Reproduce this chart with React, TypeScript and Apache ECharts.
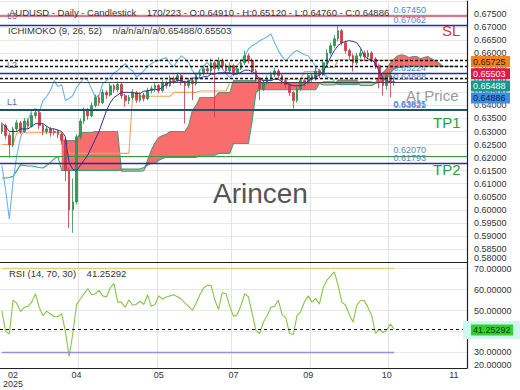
import React, { useEffect, useRef } from 'react';
import * as echarts from 'echarts';

const FONT = 'Liberation Sans, Arial, sans-serif';
const SLOTS = 125;
const categories = Array.from({ length: SLOTS }, (_, i) => String(i));

const xLabelIndex = [3, 20, 42, 62, 82, 103, 121];
const xLabelText = ['02\n2025', '04', '05', '07', '09', '10', '11'];
const xGridIndex = [21, 42, 62, 83, 104];

const opens = [
  0.6300,0.6323,0.6285,0.6248,0.6310,0.6333,0.6300,0.6340,0.6320,0.6361,
  0.6372,0.6323,0.6300,0.6310,0.6296,0.6300,0.6289,0.6266,0.6150,0.6000,
  0.6030,0.6280,0.6340,0.6380,0.6360,0.6400,0.6430,0.6410,0.6450,0.6440,
  0.6475,0.6460,0.6480,0.6437,0.6418,0.6430,0.6450,0.6420,0.6440,0.6426,
  0.6457,0.6464,0.6476,0.6457,0.6487,0.6476,0.6503,0.6495,0.6514,0.6487,
  0.6476,0.6495,0.6483,0.6514,0.6525,0.6540,0.6532,0.6563,0.6540,0.6571,
  0.6552,0.6532,0.6552,0.6525,0.6540,0.6563,0.6590,0.6571,0.6532,0.6502,
  0.6464,0.6487,0.6502,0.6518,0.6532,0.6514,0.6495,0.6480,0.6449,0.6419,
  0.6464,0.6495,0.6487,0.6514,0.6502,0.6532,0.6518,0.6563,0.6601,0.6629,
  0.6655,0.6686,0.6640,0.6610,0.6590,0.6563,0.6590,0.6601,0.6586,0.6601,
  0.6578,0.6552,0.6502,0.6476,0.6514,0.6491,
];
const closes = [
  0.6323,0.6285,0.6248,0.6310,0.6333,0.6300,0.6340,0.6320,0.6361,0.6372,
  0.6323,0.6300,0.6310,0.6296,0.6300,0.6289,0.6266,0.6150,0.6000,0.6030,
  0.6280,0.6340,0.6380,0.6360,0.6400,0.6430,0.6410,0.6450,0.6440,0.6475,
  0.6460,0.6480,0.6437,0.6418,0.6430,0.6450,0.6420,0.6440,0.6426,0.6457,
  0.6464,0.6476,0.6457,0.6487,0.6476,0.6503,0.6495,0.6514,0.6487,0.6476,
  0.6495,0.6483,0.6514,0.6525,0.6540,0.6532,0.6563,0.6540,0.6571,0.6552,
  0.6532,0.6552,0.6525,0.6540,0.6563,0.6590,0.6571,0.6532,0.6502,0.6464,
  0.6487,0.6502,0.6518,0.6532,0.6514,0.6495,0.6480,0.6449,0.6419,0.6464,
  0.6495,0.6487,0.6514,0.6502,0.6532,0.6518,0.6563,0.6601,0.6629,0.6655,
  0.6686,0.6640,0.6610,0.6590,0.6563,0.6590,0.6601,0.6586,0.6601,0.6578,
  0.6552,0.6502,0.6476,0.6514,0.6495,0.64886,
];
const lows = [
  0.6290,0.6270,0.6200,0.6240,0.6302,0.6290,0.6295,0.6310,0.6315,0.6350,
  0.6310,0.6285,0.6290,0.6280,0.6285,0.6275,0.6250,0.6110,0.5930,0.5912,
  0.6020,0.6270,0.6330,0.6345,0.6355,0.6392,0.6398,0.6405,0.6425,0.6435,
  0.6448,0.6450,0.6425,0.6395,0.6405,0.6420,0.6410,0.6412,0.6415,0.6420,
  0.6445,0.6452,0.6446,0.6450,0.6465,0.6470,0.6482,0.6488,0.6478,0.6330,
  0.6465,0.6420,0.6475,0.6505,0.6515,0.6520,0.6525,0.6354,0.6532,0.6540,
  0.6520,0.6525,0.6512,0.6518,0.6535,0.6555,0.6560,0.6520,0.6490,0.6420,
  0.6455,0.6478,0.6495,0.6508,0.6502,0.6482,0.6465,0.6435,0.6388,0.6410,
  0.6455,0.6472,0.6480,0.6490,0.6495,0.6505,0.6512,0.6555,0.6592,0.6620,
  0.6645,0.6630,0.6598,0.6575,0.6530,0.6555,0.6580,0.6572,0.6578,0.6565,
  0.6540,0.6465,0.6437,0.6460,0.6430,0.6476,
];
const highs = [
  0.6335,0.6330,0.6295,0.6318,0.6345,0.6340,0.6352,0.6350,0.6372,0.6385,
  0.6378,0.6330,0.6322,0.6318,0.6312,0.6308,0.6295,0.6272,0.6160,0.6120,
  0.6290,0.6350,0.6392,0.6390,0.6412,0.6442,0.6440,0.6462,0.6458,0.6485,
  0.6482,0.6492,0.6488,0.6445,0.6440,0.6462,0.6455,0.6452,0.6448,0.6468,
  0.6475,0.6488,0.6482,0.6498,0.6495,0.6515,0.6512,0.6526,0.6520,0.6495,
  0.6505,0.6502,0.6525,0.6538,0.6552,0.6550,0.6580,0.6572,0.6585,0.6580,
  0.6560,0.6565,0.6560,0.6552,0.6575,0.6610,0.6600,0.6580,0.6540,0.6510,
  0.6498,0.6515,0.6530,0.6545,0.6540,0.6520,0.6502,0.6488,0.6455,0.6472,
  0.6505,0.6505,0.6525,0.6522,0.6545,0.6540,0.6575,0.6615,0.6640,0.6670,
  0.6705,0.6692,0.6648,0.6618,0.6598,0.6602,0.6615,0.6610,0.6612,0.6608,
  0.6585,0.6560,0.6510,0.6522,0.6520,0.6512,
];

const tenkan = [
  0.6330,0.6320,0.6300,0.6300,0.6300,0.6310,0.6310,0.6310,0.6320,0.6330,
  0.6330,0.6330,0.6320,0.6310,0.6310,0.6305,0.6300,0.6280,0.6180,0.6155,
  0.6150,0.6170,0.6190,0.6210,0.6240,0.6270,0.6300,0.6340,0.6380,0.6410,
  0.6430,0.6440,0.6450,0.6450,0.6450,0.6450,0.6445,0.6445,0.6455,0.6455,
  0.6460,0.6460,0.6460,0.6470,0.6480,0.6490,0.6490,0.6495,0.6495,0.6490,
  0.6490,0.6505,0.6505,0.6505,0.6510,0.6510,0.6520,0.6520,0.6525,0.6525,
  0.6525,0.6525,0.6520,0.6520,0.6527,0.6535,0.6535,0.6530,0.6520,0.6500,
  0.6495,0.6495,0.6495,0.6500,0.6500,0.6490,0.6485,0.6480,0.6475,0.6475,
  0.6475,0.6480,0.6495,0.6500,0.6510,0.6515,0.6530,0.6555,0.6585,0.6610,
  0.6630,0.6640,0.6645,0.6648,0.6645,0.6640,0.6620,0.6590,0.6578,0.6575,
  0.6560,0.6530,0.6506,0.6495,0.6490,0.6490,
];
const kijun = [
  0.6250,0.6250,0.6250,0.6250,
  0.6295,0.6295,0.6295,0.6295,0.6295,0.6295,0.6295,0.6295,0.6295,0.6295,0.6295,0.6295,0.6295,
  0.6260,
  0.6216,0.6216,0.6216,0.6216,0.6216,0.6216,0.6216,0.6216,0.6216,0.6216,0.6216,0.6216,0.6216,0.6216,0.6216,0.6216,0.6216,
  0.6435,0.6435,0.6435,0.6435,0.6435,0.6435,0.6435,0.6435,0.6435,0.6435,0.6435,
  0.6450,0.6450,0.6450,0.6450,0.6450,0.6450,0.6450,
  0.6455,0.6455,0.6455,0.6455,0.6455,0.6455,0.6455,0.6455,
  0.6488,0.6488,0.6488,0.6488,0.6488,0.6488,0.6488,0.6488,
  0.6500,0.6500,0.6500,0.6500,0.6500,0.6500,0.6500,0.6500,0.6500,0.6500,0.6500,0.6500,
  0.6530,0.6530,0.6530,0.6530,0.6530,
  0.6545,0.6545,0.6545,0.6545,
  0.6575,0.6575,0.6575,0.6575,0.6575,0.6575,0.6575,
  0.65725,0.65725,0.65725,0.65725,0.65725,0.65725,0.65725,0.65725,0.65725,
];
const chikou = [
  0.6170,0.6075,0.5965,0.6110,0.6209,0.6277,0.6312,0.6342,0.6380,0.6388,
  0.6373,0.6419,0.6434,0.6457,0.6495,0.6472,0.6480,0.6419,0.6426,0.6438,
  0.6469,0.6487,0.6506,0.6495,0.6464,0.6430,0.6438,0.6484,0.6495,0.6506,
  0.6525,0.6533,0.6548,0.6560,0.6541,0.6533,0.6510,0.6518,0.6533,0.6548,
  0.6560,0.6568,0.6571,0.6579,0.6583,0.6560,0.6548,0.6571,0.6590,0.6579,
  0.6564,0.6533,0.6514,0.6533,0.6552,0.6564,0.6548,0.6545,0.6564,0.6541,
  0.6521,0.6506,0.6525,0.6552,0.6571,0.6587,0.6617,0.6629,0.6636,0.6648,
  0.6655,0.6663,0.6674,0.6640,0.6610,0.6587,0.6571,0.6587,0.6602,0.6610,
  0.6602,0.6594,0.6590,0.6571,0.6548,0.6533,0.6518,0.6510,0.6502,0.6495,
];
const senkouA = [
  0.6122,0.6122,0.6124,0.6128,0.6150,0.6172,0.6170,0.6168,0.6168,0.6165,0.6162,0.6160,0.6170,0.6182,0.6195,0.6205,
  0.6151,0.6151,0.6151,0.6151,0.6151,0.6151,0.6151,0.6151,0.6151,0.6151,0.6151,0.6151,0.6151,0.6151,0.6151,0.6151,
  0.6156,0.6156,0.6156,0.6156,0.6156,0.6156,
  0.6162,0.6171,0.6178,0.6178,0.6190,0.6197,
  0.6201,0.6201,0.6201,0.6201,0.6201,0.6201,0.6201,0.6201,0.6201,
  0.6209,0.6209,0.6209,0.6209,0.6209,
  0.6216,0.6216,0.6216,0.6216,
  0.6254,0.6254,0.6254,0.6254,0.6254,
  0.6342,0.6449,
  0.6460,0.6460,0.6460,0.6460,0.6460,0.6460,0.6460,0.6460,0.6460,0.6460,0.6460,0.6460,0.6460,0.6460,0.6460,0.6460,
  0.6485,0.6490,0.6490,0.6490,0.6490,
  0.6480,0.6480,0.6480,0.6480,0.6480,0.6480,
  0.6490,0.6490,0.6490,0.6490,
  0.6485,0.6487,0.6495,0.6502,0.6525,0.6540,0.6545,0.6545,
  0.6549,0.6549,0.6549,0.6549,0.6549,0.6549,0.6549,0.6549,0.6549,0.6549,0.6549,0.6549,0.6549,0.6549,0.6549,
  null,null,
];
const senkouB = [
  null,null,null,null,null,null,null,null,null,null,null,null,null,null,null,null,
  0.6265,0.6265,0.6265,0.6265,0.6265,
  0.6296,0.6296,0.6296,0.6296,
  0.6300,0.6300,0.6300,0.6300,0.6300,0.6300,0.6300,
  0.6148,0.6148,0.6148,0.6148,0.6148,0.6148,
  0.6150,0.6190,0.6228,0.6258,0.6277,0.6285,0.6289,
  0.6300,0.6300,0.6300,0.6300,0.6300,
  0.6323,0.6381,0.6400,
  0.6430,0.6430,0.6430,0.6430,0.6430,
  0.6449,0.6449,0.6449,0.6449,
  0.6495,0.6495,0.6495,0.6495,0.6495,0.6495,0.6495,
  0.6487,0.6487,0.6487,0.6487,0.6487,0.6487,0.6487,0.6487,0.6487,0.6487,0.6487,0.6487,0.6487,0.6487,0.6487,0.6487,
  0.6485,0.6478,0.6478,0.6478,0.6478,
  0.6497,0.6497,0.6497,0.6497,0.6497,0.6497,
  0.6476,0.6476,0.6476,0.6476,
  0.6485,0.6514,0.6525,0.6540,0.6563,0.6579,0.6590,0.6594,0.6590,0.6583,0.6587,0.6587,0.6579,0.6583,0.6587,0.6579,0.6571,0.6563,0.6550,
  0.6550,0.6550,0.6550,0.6550,
  null,null,
];

const rsi = [
  49.7,40.0,38.8,55.0,53.5,49.5,51.5,52.0,54.0,58.0,
  51.5,47.5,49.7,48.3,47.0,47.0,48.5,40.0,28.0,39.0,
  52.8,55.5,58.0,60.5,57.5,58.0,59.6,57.0,56.5,60.8,
  63.0,54.0,54.0,51.5,55.0,52.5,53.0,54.4,53.0,57.5,
  52.0,52.9,57.0,55.5,56.5,57.0,57.5,56.6,55.5,53.5,
  52.0,50.0,53.5,57.5,60.8,62.0,62.0,55.0,50.5,58.5,
  58.0,52.0,47.2,48.0,52.5,58.0,56.5,48.5,40.5,39.0,
  44.5,47.5,51.5,52.0,55.0,48.0,46.5,39.0,38.5,47.5,
  49.5,54.2,57.0,54.0,55.8,53.0,61.0,64.5,66.5,68.5,
  62.0,54.0,52.5,48.0,44.5,52.5,54.8,54.8,51.5,47.5,
  39.0,41.0,39.5,40.5,43.5,41.25292,
];
const rsiTickValues = [30, 40, 50, 60, 70];
const rsiFloorLabel = '20.00000';
const priceFloorLabel = '0.58500';

const levelValues = [0.6745, 0.67062, 0.65725, 0.65503, 0.65224, 0.6503, 0.64886, 0.63835, 0.63821, 0.6207, 0.61793];
const levelLabels = ['0.67450', '0.67062', '', '', '0.65224', '', '0.64888', '0.63835', '0.63821', '0.62070', '0.61793'];
const levelKinds = ['sl', 'navy', 'dot', 'dot', 'navy', 'dot', 'price', 'tp1', 'tp1', 'tp2', 'navy'];

const tagValues = ['0.65725', '0.65503', '0.65488', '0.64886'];
const rsiValueText = '41.25292';

function buildOption(): any {
  const candleData = opens.map((o, i) => [o, closes[i], lows[i], highs[i]]);
  const cloudBase: any[] = [];
  const cloudRed: any[] = [];
  const cloudGreen: any[] = [];
  for (let i = 0; i < SLOTS; i++) {
    const a = senkouA[i];
    const b = senkouB[i];
    if (a == null || b == null) {
      cloudBase.push('-'); cloudRed.push('-'); cloudGreen.push('-');
    } else {
      cloudBase.push(Math.min(a, b));
      cloudRed.push(b > a ? +(b - a).toFixed(6) : 0);
      cloudGreen.push(a > b ? +(a - b).toFixed(6) : 0);
    }
  }

  const kindStyle: any = {
    sl: { color: '#e0405c', width: 1.5, type: 'solid' },
    navy: { color: '#2a2f8f', width: 1.3, type: 'solid' },
    dot: { color: '#111111', width: 1.3, type: [3, 2] },
    price: { color: '#444444', width: 1, type: 'solid' },
    tp1: { color: '#1d5563', width: 2, type: 'solid' },
    tp2: { color: '#3a9a3a', width: 1.2, type: 'solid' },
  };
  const levelData = levelValues.map((v, i) => ({
    yAxis: v,
    lineStyle: kindStyle[levelKinds[i]],
    label: levelLabels[i] ? { show: true, formatter: levelLabels[i] } : { show: false },
  }));

  const lineBase = {
    type: 'line', xAxisIndex: 0, yAxisIndex: 0, showSymbol: false, symbol: 'none', silent: true,
  };

  const txt = (x: number, y: number, text: string, size: number, color: string, extra: any = {}) => ({
    type: 'text', x, y, z: 100,
    style: { text, fill: color, fontSize: size, fontFamily: FONT, align: 'left', verticalAlign: 'middle', ...extra },
  });

  const tagColors = ['#f5821f', '#e0194a', '#16998a', '#3b8ee6'];
  const tagText = ['#222222', '#ffffff', '#eafff8', '#0a1a4a'];
  const tagY = [56, 68.2, 80.4, 92.6];
  const tags: any[] = [];
  tagValues.forEach((t, i) => {
    tags.push({ type: 'rect', z: 100, shape: { x: 471, y: tagY[i], width: 39, height: 11 }, style: { fill: tagColors[i] } });
    tags.push(txt(473, tagY[i] + 5.8, t, 9, tagText[i]));
  });

  const labelMap: any = {};
  xLabelIndex.forEach((ix, k) => { labelMap[ix] = xLabelText[k]; });

  const xBase = {
    type: 'category', data: categories, boundaryGap: true,
    axisTick: { show: false },
    axisLine: { show: true, lineStyle: { color: '#222', width: 1.2 } },
    splitLine: {
      show: true,
      interval: (index: number) => xGridIndex.indexOf(index) >= 0,
      lineStyle: { color: '#e3e3e3', width: 1 },
    },
  };

  return {
    animation: false,
    backgroundColor: '#ffffff',
    grid: [
      { left: 0, top: 1, width: 467, height: 261, outerBoundsMode: 'none', containLabel: false },
      { left: 0, top: 262, width: 467, height: 106, outerBoundsMode: 'none', containLabel: false },
    ],
    xAxis: [
      { ...xBase, gridIndex: 0, axisLabel: { show: false } },
      {
        ...xBase, gridIndex: 1,
        axisLabel: {
          show: true, color: '#333', fontSize: 9, fontFamily: FONT, margin: 2, lineHeight: 9,
          interval: (index: number) => labelMap[index] !== undefined,
          formatter: (_v: string, index: number) => labelMap[index] || '',
        },
      },
    ],
    yAxis: [
      {
        type: 'value', gridIndex: 0, position: 'right', min: 0.58, max: 0.68, interval: 0.005,
        axisLine: { show: true, lineStyle: { color: '#222', width: 1.2 } },
        axisTick: { show: false },
        splitLine: { show: true, lineStyle: { color: '#e8e8e8', width: 1 } },
        axisLabel: {
          color: '#333', fontSize: 9, fontFamily: FONT, margin: 7, hideOverlap: false,
          showMaxLabel: false, showMinLabel: true, verticalAlignMinLabel: 'bottom',
          formatter: (v: number) => v.toFixed(5),
        },
      },
      {
        type: 'value', gridIndex: 1, position: 'right', min: 22.5, max: 73.2,
        axisLine: { show: true, lineStyle: { color: '#222', width: 1.2 } },
        axisTick: { show: false, customValues: rsiTickValues },
        splitLine: { show: true, lineStyle: { color: '#e8e8e8', width: 1 } },
        axisLabel: {
          color: '#333', fontSize: 9, fontFamily: FONT, margin: 7, hideOverlap: false,
          customValues: rsiTickValues,
          formatter: (v: number) => v.toFixed(5),
        },
      },
    ],
    series: [
      { ...lineBase, name: 'kumoBase', stack: 'kumo', data: cloudBase, lineStyle: { opacity: 0 }, z: 1 },
      { ...lineBase, name: 'kumoRed', stack: 'kumo', data: cloudRed, lineStyle: { opacity: 0 }, areaStyle: { color: '#f96d6d', opacity: 1 }, z: 1 },
      { ...lineBase, name: 'kumoGreen', stack: 'kumo', data: cloudGreen, lineStyle: { opacity: 0 }, areaStyle: { color: '#9fdca9', opacity: 1 }, z: 1 },
      { ...lineBase, name: 'senkouA', data: senkouA, lineStyle: { color: '#35a37c', width: 1.1 }, z: 2 },
      { ...lineBase, name: 'senkouB', data: senkouB, lineStyle: { color: '#6e8d74', width: 1.1 }, z: 2 },
      { ...lineBase, name: 'kijun', data: kijun, lineStyle: { color: '#f4a25a', width: 1.1 }, z: 3 },
      { ...lineBase, name: 'chikou', data: chikou, lineStyle: { color: '#6cb2e8', width: 1.1 }, z: 3 },
      {
        type: 'candlestick', name: 'AUDUSD', xAxisIndex: 0, yAxisIndex: 0, data: candleData, barWidth: 2.2, z: 4, silent: true,
        itemStyle: { color: '#2f9f5a', color0: '#e23b45', borderColor: '#2a8a4e', borderColor0: '#c93540', borderWidth: 0.8 },
        markLine: {
          silent: true, symbol: ['none', 'none'], animation: false, precision: 6,
          label: { show: true, position: 'insideEndTop', color: '#5b80d6', fontSize: 9, fontFamily: FONT, padding: [0, 40, 0, 0], distance: 1 },
          data: levelData,
        },
      },
      { ...lineBase, name: 'tenkan', data: tenkan, lineStyle: { color: '#2f2f9e', width: 1 }, z: 5 },
      {
        type: 'line', name: 'RSI', xAxisIndex: 1, yAxisIndex: 1, data: rsi, showSymbol: false, symbol: 'none', silent: true,
        lineStyle: { color: '#86c44a', width: 1.1 },
        markLine: {
          silent: true, symbol: ['none', 'none'], animation: false, precision: 6, label: { show: false },
          data: [
            [{ coord: ['0', 70], lineStyle: { color: '#e6cf72', width: 1.3, type: 'solid' } }, { coord: ['105', 70] }],
            [{ coord: ['0', 30], lineStyle: { color: '#9b8ce0', width: 1.3, type: 'solid' } }, { coord: ['105', 30] }],
            { yAxis: 41.25292, lineStyle: { color: '#111', width: 1, type: [3, 3] } },
          ],
        },
      },
    ],
    graphic: {
      elements: [
        txt(9, 12, 'AUDUSD - Daily - Candlestick    170/223 - O:0.64910 - H:0.65120 - L:0.64760 - C:0.64886', 9.5, '#333'),
        txt(8, 30, 'ICHIMOKO (9, 26, 52)    n/a/n/a/n/a/0.65488/0.65503', 9.5, '#333'),
        txt(7, 16, 'L3', 9, '#5a6ea6'),
        txt(7, 65, 'L2', 9, '#5a6ea6'),
        txt(7, 102, 'L1', 9, '#5a6ea6'),
        txt(442, 30, 'SL', 15, '#d8324a'),
        txt(406, 95, 'At Price', 15, '#9a9a9a'),
        txt(433, 122, 'TP1', 15, '#28a040'),
        txt(433, 169, 'TP2', 15, '#28a040'),
        txt(213, 193, 'Arincen', 28, '#555555'),
        txt(9, 273, 'RSI (14, 70, 30)    41.25292', 9.5, '#333'),
        ...tags,
        { type: 'rect', z: 99, shape: { x: 463, y: 321, width: 57, height: 18 }, style: { fill: '#cdf7ef' } },
        { type: 'rect', z: 100, shape: { x: 471, y: 324.5, width: 42, height: 11 }, style: { fill: '#2fd12f' } },
        txt(473, 330, rsiValueText, 9, '#0b3d0b'),
        { type: 'text', z: 120, x: 474, y: 364.5, style: { text: rsiFloorLabel, fill: '#333333', fontSize: 9, fontFamily: FONT, verticalAlign: 'middle' } },
        { type: 'text', z: 120, left: 474, top: 244, style: { text: priceFloorLabel, fill: '#333333', fontSize: 9, fontFamily: FONT } },
      ],
    },
  };
}

export default function App() {
  const ref = useRef<HTMLDivElement>(null);
  useEffect(() => {
    if (!ref.current) return;
    const chart = echarts.init(ref.current, undefined, { renderer: 'svg' });
    chart.setOption(buildOption());
    return () => chart.dispose();
  }, []);
  return (
    <div
      ref={ref}
      style={{ position: 'fixed', left: 0, top: 0, width: 520, height: 390, background: '#fff' }}
    />
  );
}
